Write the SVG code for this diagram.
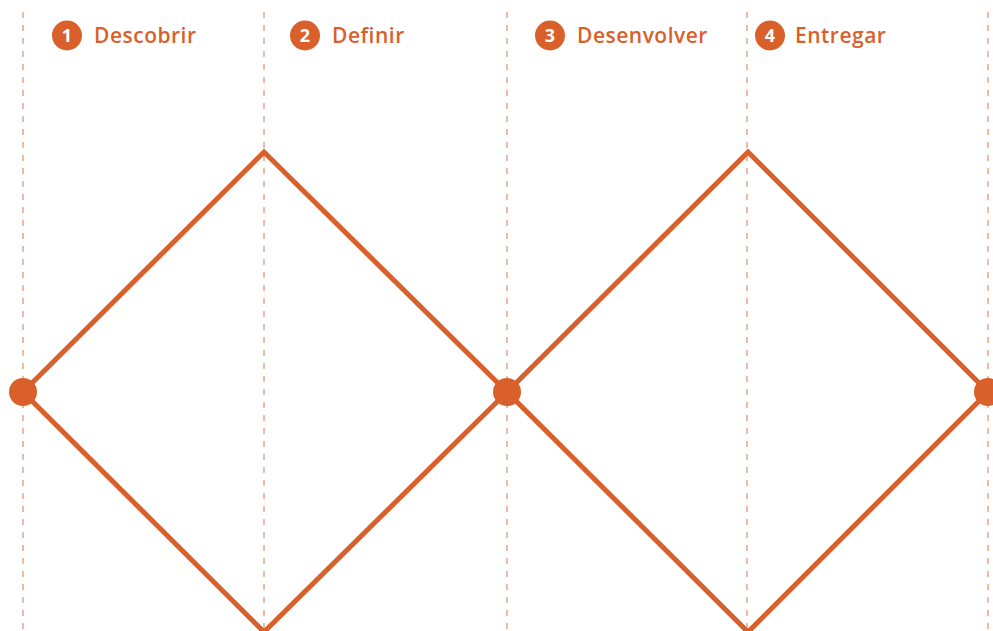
<svg xmlns="http://www.w3.org/2000/svg" width="993" height="631" viewBox="0 0 993 631">
<style>
.guide{stroke:#E69670;stroke-width:1.3;stroke-dasharray:6 7;fill:none}
.edge{stroke:#D9602B;stroke-width:5;fill:none;stroke-linejoin:miter}
.dot{fill:#D9602B}
.badge{fill:#D9602B}
.num{fill:#fff;font-family:"Open Sans","Liberation Sans",sans-serif;font-weight:700;font-size:18px;text-anchor:middle}
.lbl{fill:#D9602B;font-family:"Open Sans","Liberation Sans",sans-serif;font-weight:600;font-size:21px;letter-spacing:0.5px}
</style>
<rect width="993" height="631" fill="#fff"/>
<g id="guides">
<line class="guide" x1="23" y1="12" x2="23" y2="631"/>
<line class="guide" x1="264" y1="12" x2="264" y2="631"/>
<line class="guide" x1="507" y1="12" x2="507" y2="631"/>
<line class="guide" x1="747" y1="12" x2="747" y2="631"/>
<line class="guide" x1="988" y1="12" x2="988" y2="631"/>
</g>
<g id="connectors">
<polygon class="edge" points="23,392 264,152 507,392 264,632"/>
<polygon class="edge" points="507,392 748,152 988,392 748,632"/>
</g>
<g id="node-start"><circle class="dot" cx="23" cy="392" r="14"/></g>
<g id="node-middle"><circle class="dot" cx="507" cy="392" r="14"/></g>
<g id="node-end"><circle class="dot" cx="988" cy="392" r="14"/></g>
<g id="step-1"><circle class="badge" cx="67" cy="35.5" r="15"/><text class="num" x="67" y="42">1</text><text class="lbl" x="94" y="43">Descobrir</text></g>
<g id="step-2"><circle class="badge" cx="305" cy="35.5" r="15"/><text class="num" x="305" y="42">2</text><text class="lbl" x="332" y="43">Definir</text></g>
<g id="step-3"><circle class="badge" cx="550" cy="35.5" r="15"/><text class="num" x="550" y="42">3</text><text class="lbl" x="577" y="43">Desenvolver</text></g>
<g id="step-4"><circle class="badge" cx="770" cy="35.5" r="15"/><text class="num" x="770" y="42">4</text><text class="lbl" x="795" y="43">Entregar</text></g>
</svg>
